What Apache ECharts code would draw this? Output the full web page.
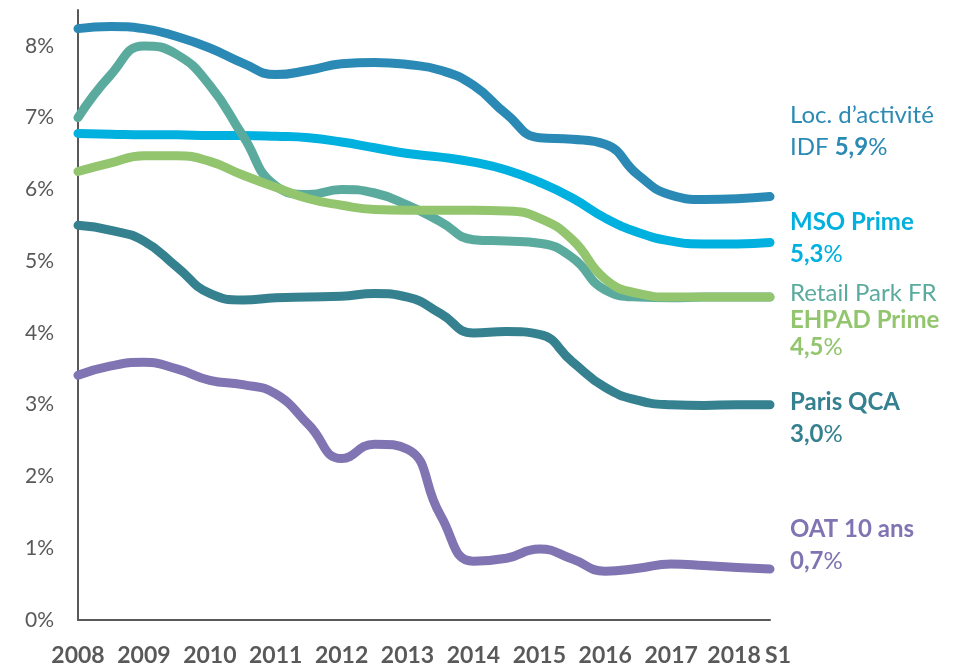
<!DOCTYPE html>
<html><head><meta charset="utf-8">
<script src="https://cdn.jsdelivr.net/npm/echarts@6/dist/echarts.min.js"></script>
<style>html,body{margin:0;padding:0;background:#fff}#c{width:968px;height:667px}</style>
</head><body><div id="c"></div>
<script>
// Half-year positions from 2008 to 2018 S1; year labels on full years
const periods = ['2008','','2009','','2010','','2011','','2012','','2013','','2014','','2015','','2016','','2017','','2018','S1'];

const locActivite = [8.24,8.27,8.24,8.13,7.97,7.76,7.60,7.66,7.75,7.77,7.74,7.66,7.45,7.05,6.72,6.70,6.63,6.20,5.92,5.86,5.87,5.90];
const msoPrime    = [6.78,6.77,6.76,6.76,6.75,6.75,6.74,6.72,6.66,6.58,6.50,6.45,6.38,6.27,6.10,5.88,5.60,5.40,5.28,5.24,5.24,5.26];
const retailPark  = [7.00,7.60,8.00,7.88,7.45,6.75,6.05,5.93,6.00,5.95,5.78,5.55,5.30,5.28,5.25,5.05,4.60,4.50,4.49,4.50,4.50,4.50];
const ehpadPrime  = [6.25,6.37,6.47,6.47,6.39,6.20,6.03,5.87,5.78,5.72,5.71,5.71,5.71,5.70,5.60,5.30,4.75,4.55,4.50,4.50,4.50,4.50];
const parisQCA    = [5.50,5.43,5.28,4.92,4.55,4.46,4.49,4.50,4.51,4.55,4.50,4.27,4.00,4.02,3.98,3.60,3.24,3.06,3.00,2.99,3.00,3.00];
const oat10       = [3.41,3.54,3.59,3.50,3.34,3.28,3.15,2.72,2.25,2.45,2.38,1.46,0.82,0.86,0.99,0.85,0.68,0.72,0.78,0.76,0.73,0.71];

const seriesNames  = ['Loc. d’activité IDF','MSO Prime','Retail Park FR','EHPAD Prime','Paris QCA','OAT 10 ans'];
const seriesData   = [locActivite, msoPrime, retailPark, ehpadPrime, parisQCA, oat10];
const seriesColors = ['#2a8ab5','#00b0de','#5aab9e','#92c56e','#35818f','#8174b2'];

const FONT = 'Lato, "Open Sans", sans-serif';
const chart = echarts.init(document.getElementById('c'));

function st(color, size, weight, lh){
  return {fontFamily:FONT,fontSize:size,fill:color,color:color,fontWeight:weight,lineHeight:lh};
}
function rich(color){
  return { n:st(color,24,'normal',32), b:st(color,24,'bold',32) };
}
function rich2(){
  return {
    r:st('#5aab9e',24,'normal',27),
    g:st('#92c56e',24,'bold',27),
    gn:st('#92c56e',24,'normal',27)
  };
}

chart.setOption({
  animation:false,
  backgroundColor:'#fff',
  grid:{left:78,right:198,top:10,bottom:46,containLabel:false},
  xAxis:{
    type:'category',data:periods,boundaryGap:false,
    axisLine:{lineStyle:{color:'#595959',width:2}},
    axisTick:{show:false},
    splitLine:{show:false},
    axisLabel:{
      interval:0,margin:24,
      fontFamily:FONT,fontSize:23,fontWeight:'bold',color:'#595959',
      formatter:function(v){
        if(v==='S1') return '{s|S1}';
        if(v==='2018') return '{y|2018}';
        return v;
      },
      rich:{
        s:{fontFamily:FONT,fontSize:23,fontWeight:'bold',color:'#595959',padding:[0,0,0,16]},
        y:{fontFamily:FONT,fontSize:23,fontWeight:'bold',color:'#595959',padding:[0,6,0,0]}
      }
    }
  },
  yAxis:{
    type:'value',min:0,max:8.5,interval:1,
    axisLine:{show:true,lineStyle:{color:'#595959',width:2}},
    axisTick:{show:false},
    splitLine:{show:false},
    axisLabel:{
      showMaxLabel:false,margin:24,
      fontFamily:FONT,fontSize:21,color:'#595959',
      formatter:function(v){return (v%1===0)? v+'%' : '';}
    }
  },
  series: seriesData.map((d,i)=>({
    name:seriesNames[i],type:'line',data:d,smooth:0.5,
    showSymbol:false,symbol:'none',
    lineStyle:{color:seriesColors[i],width:9,cap:'round',join:'round'},
    itemStyle:{color:seriesColors[i]},
    z:2+i
  })),
  graphic:[
    {type:'text',left:790,top:103,style:{text:'{n|Loc. d’activité}\n{n|IDF }{b|5,9}{n|%}',rich:rich('#2a8ab5')}},
    {type:'text',left:790,top:210,style:{text:'{b|MSO Prime}\n{b|5,3}{n|%}',rich:rich('#00b0de')}},
    {type:'text',left:790,top:281,style:{text:'{r|Retail Park FR}\n{g|EHPAD Prime}\n{g|4,5}{gn|%}',rich:rich2()}},
    {type:'text',left:790,top:390,style:{text:'{b|Paris QCA}\n{b|3,0}{n|%}',rich:rich('#35818f')}},
    {type:'text',left:790,top:517,style:{text:'{b|OAT 10 ans}\n{b|0,7}{n|%}',rich:rich('#8174b2')}}
  ]
});
</script>
</body></html>
